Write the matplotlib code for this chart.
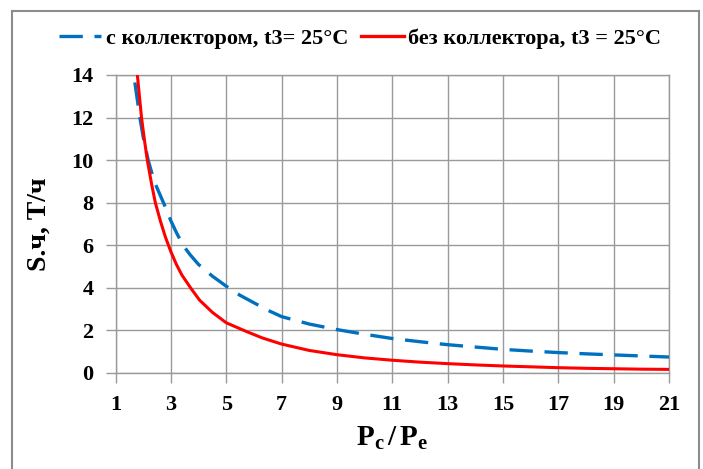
import matplotlib
matplotlib.use("Agg")
import matplotlib.pyplot as plt
from matplotlib.lines import Line2D

plt.rcParams["font.family"] = ["Liberation Serif", "DejaVu Serif"]
plt.rcParams["font.weight"] = "bold"
plt.rcParams["mathtext.fontset"] = "custom"
plt.rcParams["mathtext.rm"] = "Liberation Serif:bold"
plt.rcParams["mathtext.bf"] = "Liberation Serif:bold"
plt.rcParams["mathtext.it"] = "Liberation Serif:bold"

# Pressure ratio Pc/Pe and specific flow S.ч, T/ч
x_collector = [1.7, 1.88, 2.0, 2.18, 2.4, 2.6, 2.8, 3.0, 3.2, 3.44, 3.7, 4.0,
               4.5, 5.0, 5.5, 6.0, 6.5, 7, 8, 9, 10, 11, 12, 13, 14, 15, 16,
               17, 18, 19, 20, 21]
s_collector = [13.65, 12.0, 11.1, 10.0, 9.0, 8.4, 7.8, 7.15, 6.6, 6.0, 5.55,
               5.1, 4.55, 4.08, 3.65, 3.3, 2.95, 2.65, 2.30, 2.04, 1.82, 1.62,
               1.47, 1.33, 1.22, 1.11, 1.03, 0.96, 0.90, 0.85, 0.80, 0.75]

x_plain = [1.79, 1.94, 2.05, 2.15, 2.3, 2.44, 2.62, 2.8, 3.0, 3.2, 3.4, 3.74,
           4.04, 4.5, 5.0, 5.73, 6.3, 7, 8, 9, 10, 11, 12, 13, 14, 15, 16,
           17, 18, 19, 20, 21]
s_plain = [14.0, 12.0, 10.9, 10.0, 8.9, 8.0, 7.15, 6.4, 5.7, 5.1, 4.6, 3.95,
           3.42, 2.85, 2.36, 1.95, 1.65, 1.36, 1.06, 0.86, 0.71, 0.60, 0.51,
           0.44, 0.38, 0.33, 0.29, 0.25, 0.22, 0.20, 0.18, 0.17]

label_collector = "с коллектором, t3= 25°C"
label_plain = "без коллектора, t3 = 25°C"
x_ticks = list(range(1, 22, 2))
y_ticks = list(range(0, 15, 2))

W, H = 703, 469
fig = plt.figure(figsize=(W / 100, H / 100), dpi=100)
ax = fig.add_axes([115.5 / W, 1 - 373 / H, (669 - 115.5) / W, (373 - 75) / H])

grid_c = "#9a9a9a"
dash = (0, (7, 3.5))
ax.plot(x_collector, s_collector, color="#0070C0", lw=2.4,
        linestyle=dash, solid_capstyle="butt", zorder=3)
ax.plot(x_plain, s_plain, color="#FF0000", lw=2.2, zorder=4)

ax.set_xlim(1, 21)
ax.set_ylim(0, 14)
ax.set_xticks(x_ticks)
ax.set_yticks(y_ticks)
ax.grid(True, color=grid_c, lw=1)
ax.set_axisbelow(True)
for sp in ax.spines.values():
    sp.set_color(grid_c)
    sp.set_linewidth(1)
ax.tick_params(axis="both", direction="out", length=7, width=1,
               color=grid_c, labelsize=16)
ax.tick_params(axis="x", pad=9)
ax.tick_params(axis="y", pad=9)
for lab in ax.get_xticklabels() + ax.get_yticklabels():
    lab.set_fontweight("bold")

ax.set_xlabel(r"$\mathrm{P_c\,/\,P_e}$", fontsize=21, va="center")
ax.xaxis.set_label_coords(0.5, (373 - 438) / 298)
ax.set_ylabel("S.ч, Т/ч", fontsize=20, fontweight="bold", va="center")
ax.yaxis.set_label_coords((39 - 115.5) / 553.5, 0.5)

handles = [Line2D([], [], color="#0070C0", lw=2.4, linestyle=dash),
           Line2D([], [], color="#FF0000", lw=2.4)]
fig.legend(handles, [label_collector, label_plain], loc="center",
           bbox_to_anchor=(360 / W, 1 - 39 / H), ncol=2, frameon=False,
           handlelength=1.9, handletextpad=0.2, columnspacing=0.6,
           prop={"weight": "bold", "size": 16})

# outer frame
frame_c = "#8c8c8c"
x0, x1, y1 = 12 / W, 699 / W, 1 - 11 / H
for xs, ys in [([x0, x0], [0, y1]), ([x0, x1], [y1, y1]), ([x1, x1], [0, y1])]:
    fig.add_artist(Line2D(xs, ys, color=frame_c, lw=1.5, transform=fig.transFigure))

fig.savefig("out.png", dpi=100)
